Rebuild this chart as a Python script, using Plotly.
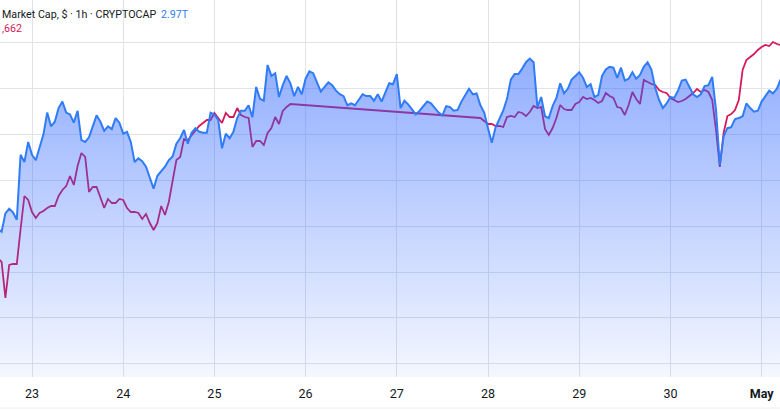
import pandas as pd
import plotly.graph_objects as go

BASE = pd.Timestamp("2025-04-23 00:00")

# Total crypto market cap (billions USD), hourly, hours relative to Apr 23 00:00
cap_hours = list(range(-9, 199))
cap_values = [
    2797, 2794, 2814, 2819, 2815, 2807, 2878, 2870, 2892,
    2878, 2872, 2885, 2900, 2924, 2909, 2914, 2929, 2936, 2924,
    2922, 2913, 2926, 2894, 2892, 2897, 2909, 2921, 2914, 2904,
    2909, 2906, 2918, 2913, 2901, 2903, 2892, 2870, 2874, 2871,
    2865, 2854, 2841, 2855, 2860, 2865, 2872, 2876, 2890, 2896,
    2905, 2890, 2902, 2907, 2903, 2902, 2902, 2924, 2922, 2916,
    2885, 2901, 2896, 2903, 2918, 2926, 2926, 2932, 2919, 2952,
    2939, 2937, 2976, 2964, 2967, 2941, 2954, 2964, 2956, 2942,
    2952, 2944, 2961, 2969, 2967, 2957, 2947, 2952, 2957, 2954,
    2948, 2944, 2942, 2932, 2934, 2932, 2938, 2944, 2942, 2942,
    2937, 2944, 2936, 2947, 2956, 2955, 2966, 2929, 2937, 2933,
    2928, 2922, 2926, 2931, 2936, 2934, 2929, 2924, 2921, 2931,
    2930, 2926, 2927, 2936, 2943, 2950, 2944, 2945, 2932, 2924,
    2907, 2891, 2908, 2918, 2926, 2939, 2960, 2966, 2966, 2972,
    2979, 2983, 2979, 2930, 2941, 2920, 2918, 2931, 2940, 2956,
    2945, 2950, 2960, 2964, 2968, 2962, 2952, 2955, 2941, 2943,
    2964, 2971, 2974, 2973, 2962, 2973, 2959, 2961, 2968, 2961,
    2965, 2974, 2979, 2971, 2951, 2938, 2929, 2934, 2941, 2940,
    2948, 2959, 2960, 2952, 2944, 2941, 2944, 2953, 2954, 2963,
    2927, 2867, 2898, 2907, 2908, 2917, 2918, 2920, 2934, 2929,
    2925, 2926, 2936, 2942, 2948, 2945, 2950, 2960, 2962,
]

# Bitcoin price (USD), hourly, with a data gap between hour 68 and hour 118
btc_hours = list(range(-9, 69)) + list(range(118, 198))
btc_values = [
    91337, 91237, 90337, 91162, 91187, 91187, 92062, 92887, 92787,
    92487, 92337, 92462, 92512, 92587, 92637, 92637, 92887, 93037, 93137,
    93387, 93162, 93637, 93962, 93862, 92987, 93112, 93112, 92837, 92587,
    92812, 92712, 92712, 92812, 92787, 92587, 92487, 92487, 92462, 92312,
    92437, 92212, 92037, 92212, 92637, 92412, 92737, 93287, 93787, 93862,
    94312, 94287, 94412, 94512, 94637, 94712, 94787, 94787, 94962, 94837,
    94712, 94962, 94862, 94862, 95087, 94912, 94862, 94837, 94112, 94262,
    94262, 94162, 94462, 94587, 94862, 94687, 95012, 95112, 95187,
    94837, 94762, 94687, 94687, 94637, 94637, 94612, 94862, 94887, 94862,
    94987, 94962, 94887, 94987, 95137, 95087, 95112, 94562, 94412, 94587,
    94837, 95162, 95062, 95037, 95037, 95187, 95237, 95362, 95312, 95337,
    95287, 95212, 95262, 95462, 95387, 95337, 95112, 95087, 94912, 95162,
    95487, 95312, 95187, 95787, 95737, 95687, 95662, 95537, 95487, 95462,
    95337, 95287, 95237, 95262, 95312, 95387, 95462, 95562, 95487, 95537,
    95487, 95287, 94537, 93612, 94462, 94887, 94937, 95037, 95287, 96037,
    96287, 96362, 96437, 96537, 96612, 96662, 96637, 96737, 96687, 96662,
]

day_ticks = ["2025-04-23", "2025-04-24", "2025-04-25", "2025-04-26", "2025-04-27",
             "2025-04-28", "2025-04-29", "2025-04-30", "2025-05-01"]
day_labels = ["23", "24", "25", "26", "27", "28", "29", "30", "<b>May</b>"]

cap_grid = [2650, 2700, 2750, 2800, 2850, 2900, 2950, 3000]

cap_x = [BASE + pd.Timedelta(hours=h) for h in cap_hours]
btc_x = [BASE + pd.Timedelta(hours=h) for h in btc_hours]

BLUE = "#2f7cf6"
RED = "#d6185c"
GRID = "#e0e3eb"
TEXT = "#131722"
FONT = "Roboto"
LEG = 10.7

fig = go.Figure()

fig.add_trace(go.Scatter(
    x=btc_x, y=btc_values, mode="lines", yaxis="y",
    line=dict(color=RED, width=1.8), hoverinfo="skip", showlegend=False,
))

fig.add_trace(go.Scatter(
    x=cap_x, y=cap_values, mode="lines", yaxis="y2",
    line=dict(color=BLUE, width=2),
    fill="tozeroy",
    fillgradient=dict(
        type="vertical",
        colorscale=[[0, "rgba(41,98,255,0.05)"], [1, "rgba(41,98,255,0.52)"]],
        start=2635, stop=2990,
    ),
    hoverinfo="skip", showlegend=False,
))

x0 = BASE + pd.Timedelta(hours=-8.42)
x1 = BASE + pd.Timedelta(hours=196.84)

fig.update_layout(
    width=780, height=411,
    margin=dict(l=0, r=0, t=0, b=34, pad=0, autoexpand=False),
    paper_bgcolor="white", plot_bgcolor="white",
    font=dict(family=FONT, color=TEXT, size=13),
    xaxis=dict(
        type="date", range=[x0, x1], automargin=False,
        tickvals=day_ticks, ticktext=day_labels,
        showgrid=True, gridcolor=GRID, gridwidth=1,
        zeroline=False, showline=False, ticks="",
        ticklabelstandoff=7,
        tickfont=dict(family=FONT, size=12.5, color=TEXT),
    ),
    yaxis=dict(
        range=[88362, 97787], visible=False, showgrid=False, zeroline=False,
        automargin=False,
    ),
    yaxis2=dict(
        range=[2635.4, 3046.9], overlaying="y", side="left", automargin=False,
        tickvals=cap_grid, showticklabels=False, ticks="",
        showgrid=True, gridcolor=GRID, gridwidth=1,
        zeroline=False, showline=False,
    ),
    annotations=[
        dict(x=0, y=1 - 14 / 377, xref="paper", yref="paper", xanchor="left",
             yanchor="middle", showarrow=False,
             text="Market Cap, $ · 1h · CRYPTOCAP",
             font=dict(family=FONT, size=LEG, color=TEXT)),
        dict(x=159 / 780, y=1 - 14 / 377, xref="paper", yref="paper", xanchor="left",
             yanchor="middle", showarrow=False, text="2.97T",
             font=dict(family=FONT, size=LEG, color=BLUE)),
        dict(x=0, y=1 - 29 / 377, xref="paper", yref="paper", xanchor="left",
             yanchor="middle", showarrow=False, text=",662",
             font=dict(family=FONT, size=LEG, color=RED)),
    ],
    shapes=[
        dict(type="line", xref="paper", yref="paper", x0=0, x1=1,
             y0=(377 - 408) / 377, y1=(377 - 408) / 377,
             line=dict(color="#eceef2", width=1)),
    ],
)

fig.write_html("out.html", config={"displayModeBar": False},
               post_script="document.body.style.margin='0px';")
